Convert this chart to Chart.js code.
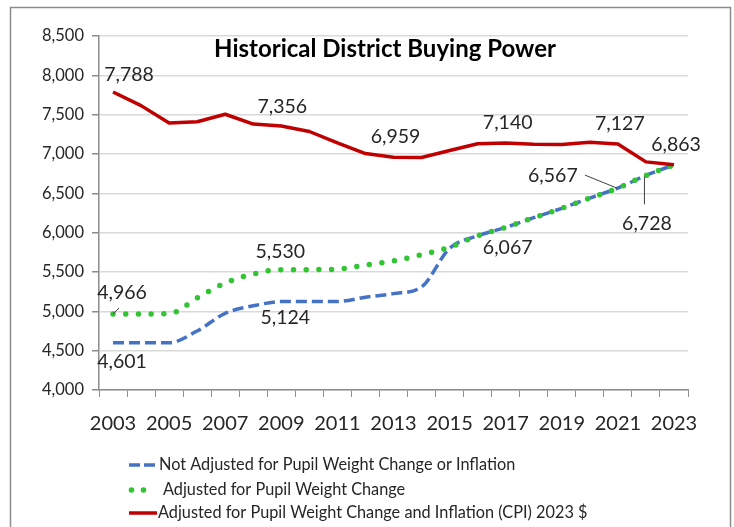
<!DOCTYPE html>
<html>
<head>
<meta charset="utf-8">
<title>Historical District Buying Power</title>
<script src="https://cdn.jsdelivr.net/npm/chart.js@4.4.1/dist/chart.umd.min.js"></script>
<style>
  html, body { margin: 0; padding: 0; background: #fff; }
  #wrap { width: 734px; height: 527px; }
</style>
</head>
<body>
<div id="wrap"><canvas id="buyingChart" width="734" height="527"></canvas></div>
<script>
// Values
const years = ['2003', '2004', '2005', '2006', '2007', '2008', '2009', '2010', '2011', '2012', '2013',
               '2014', '2015', '2016', '2017', '2018', '2019', '2020', '2021', '2022', '2023'];

const notAdjusted   = [4601, 4601, 4601, 4750, 4975, 5070, 5124, 5125, 5125, 5180, 5225,
                       5310, 5800, 5960, 6067, 6190, 6310, 6440, 6567, 6728, 6863];
const pupilAdjusted = [4966, 4966, 4970, 5170, 5360, 5475, 5530, 5530, 5535, 5590, 5640,
                       5720, 5815, 5960, 6067, 6190, 6310, 6440, 6567, 6728, 6863];
const cpiAdjusted   = [7788, 7615, 7395, 7410, 7505, 7380, 7356, 7286, 7140, 7005, 6959,
                       6955, 7045, 7130, 7140, 7125, 7120, 7150, 7127, 6900, 6863];

const yTicks = [4000, 4500, 5000, 5500, 6000, 6500, 7000, 7500, 8000, 8500];

const seriesNames = [
    'Not Adjusted for Pupil Weight Change or Inflation',
    'Adjusted for Pupil Weight Change',
    'Adjusted for Pupil Weight Change and Inflation (CPI) 2023 $'
];

const FONT = "Lato, 'Open Sans', sans-serif";
const TEXT = '#262626';

// which points get a value label (ds = dataset index, i = year index)
const labelSpots = [
    { ds: 2, i: 0,  dx: 16,  dy: -17 },
    { ds: 2, i: 6,  dx: 1,   dy: -19 },
    { ds: 2, i: 10, dx: 2,   dy: -21 },
    { ds: 2, i: 14, dx: 2,   dy: -20 },
    { ds: 2, i: 18, dx: 2,   dy: -20 },
    { ds: 2, i: 20, dx: 2,   dy: -20 },
    { ds: 1, i: 6,  dx: -1,  dy: -18 },
    { ds: 0, i: 6,  dx: 4,   dy: 16 },
    { ds: 1, i: 0,  dx: 9,   dy: -21, leader: [0, 0, 6, -6] },
    { ds: 0, i: 0,  dx: 9,   dy: 19 },
    { ds: 0, i: 14, dx: 2,   dy: 20 },
    { ds: 0, i: 18, dx: -65, dy: -12, leader: [-33, -13, -1, 0] },
    { ds: 1, i: 19, dx: 1,   dy: 48,  leader: [-1.5, 1, -1.5, 29] }
];

// White page + thin grey frame like the pasted picture
const framePlugin = {
    id: 'frame',
    beforeDraw(chart) {
        const ctx = chart.ctx;
        ctx.save();
        ctx.fillStyle = '#fff';
        ctx.fillRect(0, 0, chart.width, chart.height);
        ctx.strokeStyle = '#8c8c8c';
        ctx.lineWidth = 1.5;
        ctx.strokeRect(10.5, 7.5, 720, chart.height + 20);
        ctx.restore();
    }
};

// value labels with small leader lines
const valueLabels = {
    id: 'valueLabels',
    afterDatasetsDraw(chart) {
        const ctx = chart.ctx;
        const x = chart.scales.x, y = chart.scales.y;
        ctx.save();
        ctx.font = '19.5px ' + FONT;
        ctx.fillStyle = TEXT;
        ctx.textAlign = 'center';
        ctx.textBaseline = 'middle';
        labelSpots.forEach(s => {
            const v = chart.data.datasets[s.ds].data[s.i];
            const px = x.getPixelForValue(s.i);
            const py = y.getPixelForValue(v);
            if (s.leader) {
                ctx.strokeStyle = '#404040';
                ctx.lineWidth = 1;
                ctx.beginPath();
                ctx.moveTo(px + s.leader[0], py + s.leader[1]);
                ctx.lineTo(px + s.leader[2], py + s.leader[3]);
                ctx.stroke();
            }
            ctx.fillText(v.toLocaleString('en-US'), px + s.dx, py + s.dy);
        });
        ctx.restore();
    }
};

// title inside the plot and the stacked legend underneath
const titleAndLegend = {
    id: 'titleAndLegend',
    afterDraw(chart) {
        const ctx = chart.ctx;
        const ds = chart.data.datasets;
        ctx.save();
        ctx.fillStyle = '#000';
        ctx.font = 'bold 24px ' + FONT;
        ctx.textAlign = 'center';
        ctx.textBaseline = 'middle';
        ctx.fillText('Historical District Buying Power', 385, 49);

        ctx.textAlign = 'left';
        ctx.font = '16.3px ' + FONT;
        ctx.fillStyle = TEXT;
        const left = 129, top = 465, gap = 24;

        // dashed blue
        ctx.strokeStyle = ds[0].borderColor;
        ctx.lineWidth = 3.5;
        ctx.setLineDash([11, 4]);
        ctx.beginPath();
        ctx.moveTo(left, top);
        ctx.lineTo(left + 27, top);
        ctx.stroke();
        ctx.setLineDash([]);
        ctx.fillText(ds[0].label, left + 30, top);

        // dotted green
        ctx.fillStyle = ds[1].borderColor;
        [2.5, 14.5].forEach(off => {
            ctx.beginPath();
            ctx.arc(left + off, top + gap + 1, 2.8, 0, Math.PI * 2);
            ctx.fill();
        });
        ctx.fillStyle = TEXT;
        ctx.fillText(ds[1].label, left + 34, top + gap + 1);

        // solid red
        ctx.strokeStyle = ds[2].borderColor;
        ctx.lineWidth = 3.5;
        ctx.beginPath();
        ctx.moveTo(left, top + gap * 2);
        ctx.lineTo(left + 28, top + gap * 2);
        ctx.stroke();
        ctx.fillText(ds[2].label, left + 29, top + gap * 2);
        ctx.restore();
    }
};

const ctx = document.getElementById('buyingChart').getContext('2d');

new Chart(ctx, {
    type: 'line',
    data: {
        labels: years,
        datasets: [{
            label: seriesNames[0],
            data: notAdjusted,
            borderColor: '#4472C4',
            borderWidth: 3.5,
            borderDash: [11, 5],
            cubicInterpolationMode: 'monotone',
            pointRadius: 0,
            order: 2
        }, {
            label: seriesNames[1],
            data: pupilAdjusted,
            borderColor: '#33C433',
            borderWidth: 5.5,
            borderDash: [0, 12.7],
            borderCapStyle: 'round',
            cubicInterpolationMode: 'monotone',
            pointRadius: 0,
            order: 1
        }, {
            label: seriesNames[2],
            data: cpiAdjusted,
            borderColor: '#C00000',
            borderWidth: 3.5,
            borderJoinStyle: 'round',
            tension: 0,
            pointRadius: 0,
            order: 0
        }]
    },
    options: {
        responsive: false,
        devicePixelRatio: 1,
        animation: false,
        layout: { padding: { left: 0, right: 46, top: 36, bottom: 0 } },
        plugins: {
            legend: { display: false },
            title: { display: false },
            tooltip: { enabled: false }
        },
        scales: {
            x: {
                type: 'category',
                offset: true,
                grid: {
                    offset: true,
                    drawOnChartArea: false,
                    drawTicks: true,
                    tickLength: 7,
                    tickColor: '#8c8c8c'
                },
                border: { color: '#8c8c8c', width: 1.5 },
                ticks: {
                    autoSkip: false,
                    maxRotation: 0,
                    padding: 15,
                    color: TEXT,
                    font: { family: FONT, size: 20 },
                    callback: function(value, index) {
                        return index % 2 === 0 ? this.getLabelForValue(value) : '';
                    }
                },
                afterFit(scale) { scale.height = 137; }
            },
            y: {
                min: yTicks[0],
                max: yTicks[yTicks.length - 1],
                afterBuildTicks(scale) { scale.ticks = yTicks.map(v => ({ value: v })); },
                grid: {
                    color: '#d9d9d9',
                    lineWidth: 1.5,
                    tickLength: 7,
                    tickColor: '#8c8c8c'
                },
                border: { color: '#8c8c8c', width: 1.5 },
                ticks: {
                    padding: 8,
                    color: TEXT,
                    font: { family: FONT, size: 16.5 },
                    callback: v => v.toLocaleString('en-US')
                },
                afterFit(scale) { scale.width = 99; }
            }
        }
    },
    plugins: [framePlugin, valueLabels, titleAndLegend]
});
</script>
</body>
</html>
